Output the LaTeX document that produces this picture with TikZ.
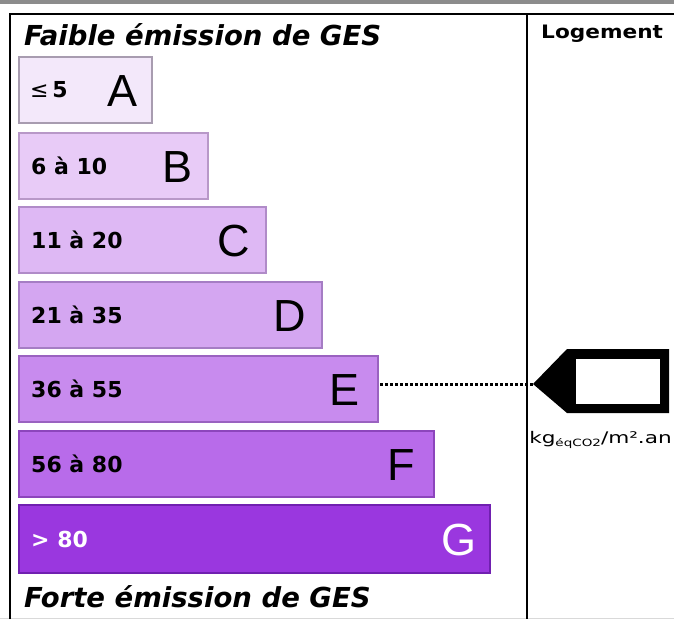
\documentclass[tikz,border=0pt]{standalone}
\usepackage{fontspec}
\setmainfont{DejaVu Sans}
\newfontfamily\lettfont{Liberation Sans}
\definecolor{cA}{HTML}{F3E8FA}\definecolor{bA}{HTML}{A89CB0}
\definecolor{cB}{HTML}{E8CBF7}\definecolor{bB}{HTML}{B898C8}
\definecolor{cC}{HTML}{DEB8F4}\definecolor{bC}{HTML}{B08BC8}
\definecolor{cD}{HTML}{D4A6F1}\definecolor{bD}{HTML}{A57DC4}
\definecolor{cE}{HTML}{C88BEE}\definecolor{bE}{HTML}{9A62C0}
\definecolor{cF}{HTML}{B86BEA}\definecolor{bF}{HTML}{8C45BC}
\definecolor{cG}{HTML}{9A37DF}\definecolor{bG}{HTML}{7020B0}
\tikzset{
  bar/.style={draw=#1, line width=1.5pt, minimum height=66pt, anchor=north west, inner sep=0pt, outer sep=0pt},
  rng/.style={anchor=west, font=\fontsize{22}{22}\selectfont\bfseries, inner sep=0pt},
  lett/.style={anchor=east, font=\lettfont\fontsize{45}{45}\selectfont, inner sep=0pt},
  title/.style={anchor=base west, inner sep=0pt, font=\fontsize{27.5}{27.5}\selectfont\bfseries\itshape},
  frame/.style={line width=2pt, black}
}
\begin{document}
\begin{tikzpicture}[x=1pt,y=-1pt]
\useasboundingbox (0,0) rectangle (674,619);
\fill[gray!90] (0,0) rectangle (674,4);
\fill[gray!30] (0,617.5) rectangle (674,619);
\draw[frame] (10,619) -- (10,13.5) -- (674,13.5);
\draw[frame] (527,13.5) -- (527,619);
\node[title] (faible) at (24,45) {Faible émission de GES};
\node[title] (forte) at (24,607) {Forte émission de GES};
\node[anchor=base west, inner sep=0pt, font=\fontsize{18.5}{18.5}\selectfont\bfseries, xscale=1.17] (loge) at (541,38) {Logement};
% bars
\node[bar=bA, fill=cA, minimum width=133pt] (A) at (19,57) {};
\node[bar=bB, fill=cB, minimum width=189pt] (B) at (19,133) {};
\node[bar=bC, fill=cC, minimum width=247pt] (C) at (19,207) {};
\node[bar=bD, fill=cD, minimum width=303pt] (D) at (19,282) {};
\node[bar=bE, fill=cE, minimum width=359pt] (E) at (19,356) {};
\node[bar=bF, fill=cF, minimum width=415pt] (F) at (19,431) {};
\node[bar=bG, fill=cG, minimum width=471pt, minimum height=68pt] (G) at (19,505) {};
% ranges
\node[rng, font=\fontsize{22}{22}\selectfont] (rA) at ([xshift=11pt]A.west) {≤\,\textbf{5}};
\node[rng] (rB) at ([xshift=12pt]B.west) {6 à 10};
\node[rng] (rC) at ([xshift=12pt]C.west) {11 à 20};
\node[rng] (rD) at ([xshift=12pt]D.west) {21 à 35};
\node[rng] (rE) at ([xshift=12pt]E.west) {36 à 55};
\node[rng] (rF) at ([xshift=12pt]F.west) {56 à 80};
\node[rng, text=white] (rG) at ([xshift=12pt]G.west) {> 80};
% letters
\node[lett] (lA) at ([xshift=-14pt,yshift=-1pt]A.east) {A};
\node[lett] (lB) at ([xshift=-15pt,yshift=-1pt]B.east) {B};
\node[lett] (lC) at ([xshift=-16pt,yshift=-1pt]C.east) {C};
\node[lett] (lD) at ([xshift=-16pt,yshift=-1pt]D.east) {D};
\node[lett] (lE) at ([xshift=-18pt,yshift=-1pt]E.east) {E};
\node[lett] (lF) at ([xshift=-19pt,yshift=-1pt]F.east) {F};
\node[lett, text=white] (lG) at ([xshift=-13pt,yshift=-1pt]G.east) {G};
% arrow
\coordinate (tip) at (533,384);
\fill[black] (tip) -- (567,349) -- (669,349) -- (669,413) -- (567,413) -- cycle;
\fill[white] (576,359) rectangle (660,404);
\draw[line width=3pt, dash pattern=on 2.5pt off 2.5pt] ([xshift=2pt]E.east |- tip) -- (tip);
\node[anchor=base west, inner sep=0pt, font=\fontsize{16}{16}\selectfont, xscale=1.35] (unit) at (529,443)
  {kg\raisebox{-3pt}{\fontsize{10}{10}\selectfont éqCO2}/m².an};
\end{tikzpicture}
\end{document}
